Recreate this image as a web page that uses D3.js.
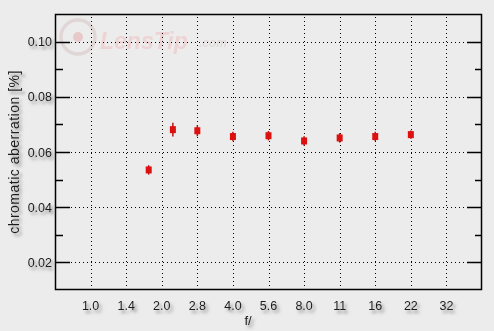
<!DOCTYPE html>
<html>
<head>
<meta charset="utf-8">
<script src="https://cdn.jsdelivr.net/npm/d3@7"></script>
<style>
  html, body { margin: 0; padding: 0; background: #ececec; }
  svg { display: block; }
  text { font-family: "Liberation Sans", Arial, sans-serif; }
</style>
</head>
<body>
<svg id="chart" width="494" height="331"></svg>
<script>
// ---- data ----
const xTickLabels = ["1.0", "1.4", "2.0", "2.8", "4.0", "5.6", "8.0", "11", "16", "22", "32"];
const apertures = [1.78, 2.25, 2.8, 4.0, 5.6, 8.0, 11, 16, 22];
const aberration = [0.0535, 0.0681, 0.0677, 0.0656, 0.0659, 0.0640, 0.0651, 0.0656, 0.0663];
const errorLow  = [0.0017, 0.0025, 0.0020, 0.0017, 0.0017, 0.0017, 0.0017, 0.0017, 0.0015];
const errorHigh = [0.0017, 0.0025, 0.0020, 0.0017, 0.0017, 0.0017, 0.0017, 0.0017, 0.0015];
const yMajorTicks = [0.02, 0.04, 0.06, 0.08, 0.10];
const yMinorTicks = [0.03, 0.05, 0.07, 0.09];
const yTitle = "chromatic aberration [%]";
const xTitle = "f/";

// ---- layout ----
const W = 494, H = 331;
const m = { left: 55, top: 14, right: 12, bottom: 41 };
const x0 = m.left, x1 = W - m.right, y0 = m.top, y1 = H - m.bottom;

const svg = d3.select("#chart");
const defs = svg.append("defs");
const f = defs.append("filter").attr("id", "shadow")
  .attr("x", "-50%").attr("y", "-50%").attr("width", "200%").attr("height", "200%");
f.append("feDropShadow").attr("dx", 2.5).attr("dy", 3).attr("stdDeviation", 1.8)
  .attr("flood-color", "#6e6e6e").attr("flood-opacity", 0.75);

// index scale for stops
const xIdx = d3.scaleLinear().domain([-1, 11]).range([x0, x1]);
const tickNums = xTickLabels.map(Number);
const x = d3.scaleLinear().domain(tickNums).range(tickNums.map((_, i) => xIdx(i)));
const y = d3.scaleLinear().domain([0.01, 0.11]).range([y1, y0]);

// watermark
const wm = svg.append("g").attr("opacity", 0.6);
wm.append("circle").attr("cx", 78).attr("cy", 37).attr("r", 17)
  .attr("fill", "none").attr("stroke", "#d9c9c9").attr("stroke-width", 3.5);
wm.append("circle").attr("cx", 78).attr("cy", 37).attr("r", 5).attr("fill", "#e7b3b3");
wm.append("text").attr("x", 100).attr("y", 49)
  .attr("font-size", 23).attr("font-weight", "bold").attr("font-style", "italic")
  .attr("fill", "#efc4c4").text("LensTip");
wm.append("text").attr("x", 199).attr("y", 47)
  .attr("font-size", 12).attr("font-weight", "bold").attr("font-style", "italic")
  .attr("fill", "#dccfcf").text(".com");

// gridlines
const grid = svg.append("g").attr("stroke", "#000").attr("stroke-width", 1)
  .attr("stroke-dasharray", "1,3");
grid.selectAll("line.v").data(tickNums).join("line").attr("class", "v")
  .attr("x1", d => Math.round(x(d)) + 0.5).attr("x2", d => Math.round(x(d)) + 0.5)
  .attr("y1", y0 + 3).attr("y2", y1 - 1);
grid.selectAll("line.h").data(yMajorTicks).join("line").attr("class", "h")
  .attr("x1", x0 + 16).attr("x2", x1 - 15)
  .attr("y1", d => Math.round(y(d)) + 0.5).attr("y2", d => Math.round(y(d)) + 0.5);

// frame
svg.append("rect").attr("x", x0 + 0.5).attr("y", y0 + 0.5)
  .attr("width", x1 - x0 - 1).attr("height", y1 - y0 - 1)
  .attr("fill", "none").attr("stroke", "#000").attr("stroke-width", 1.5);

// y ticks (left and right)
const ticks = svg.append("g").attr("stroke", "#000").attr("stroke-width", 1.5);
ticks.selectAll("line.lmaj").data(yMajorTicks).join("line").attr("class", "lmaj")
  .attr("x1", x0).attr("x2", x0 + 15)
  .attr("y1", d => Math.round(y(d)) + 0.5).attr("y2", d => Math.round(y(d)) + 0.5);
ticks.selectAll("line.lmin").data(yMinorTicks).join("line").attr("class", "lmin")
  .attr("x1", x0).attr("x2", x0 + 8)
  .attr("y1", d => Math.round(y(d)) + 0.5).attr("y2", d => Math.round(y(d)) + 0.5);
ticks.selectAll("line.rmaj").data(yMajorTicks).join("line").attr("class", "rmaj")
  .attr("x1", x1 - 15).attr("x2", x1)
  .attr("y1", d => Math.round(y(d)) + 0.5).attr("y2", d => Math.round(y(d)) + 0.5);
ticks.selectAll("line.rmin").data(yMinorTicks).join("line").attr("class", "rmin")
  .attr("x1", x1 - 7).attr("x2", x1)
  .attr("y1", d => Math.round(y(d)) + 0.5).attr("y2", d => Math.round(y(d)) + 0.5);

// labels
const labels = svg.append("g").attr("filter", "url(#shadow)")
  .attr("fill", "#1a1a1a").attr("font-size", 12.5);
labels.selectAll("text.yl").data(yMajorTicks).join("text").attr("class", "yl")
  .attr("x", x0 - 3).attr("y", d => y(d) + 4.5).attr("text-anchor", "end")
  .text(d => d.toFixed(2));
labels.selectAll("text.xl").data(xTickLabels).join("text").attr("class", "xl")
  .attr("x", (d, i) => xIdx(i)).attr("y", 310).attr("text-anchor", "middle")
  .text(d => d);
labels.append("text").attr("x", 248).attr("y", 325).attr("text-anchor", "middle")
  .attr("font-size", 13).text(xTitle);
labels.append("text").attr("transform", `translate(19,${(y0 + y1) / 2}) rotate(-90)`)
  .attr("text-anchor", "middle").attr("font-size", 14).attr("letter-spacing", 0.5)
  .text(yTitle);

// data
const pts = apertures.map((a, i) => ({ a, v: aberration[i], lo: errorLow[i], hi: errorHigh[i] }));
const g = svg.append("g");
g.selectAll("line.err").data(pts).join("line").attr("class", "err")
  .attr("x1", d => x(d.a)).attr("x2", d => x(d.a))
  .attr("y1", d => y(d.v - d.lo)).attr("y2", d => y(d.v + d.hi))
  .attr("stroke", "#b01818").attr("stroke-width", 1.5);
g.selectAll("rect.pt").data(pts).join("rect").attr("class", "pt")
  .attr("x", d => x(d.a) - 3).attr("y", d => y(d.v) - 3.5)
  .attr("width", 6).attr("height", 7).attr("fill", "#dd1010");
</script>
</body>
</html>
